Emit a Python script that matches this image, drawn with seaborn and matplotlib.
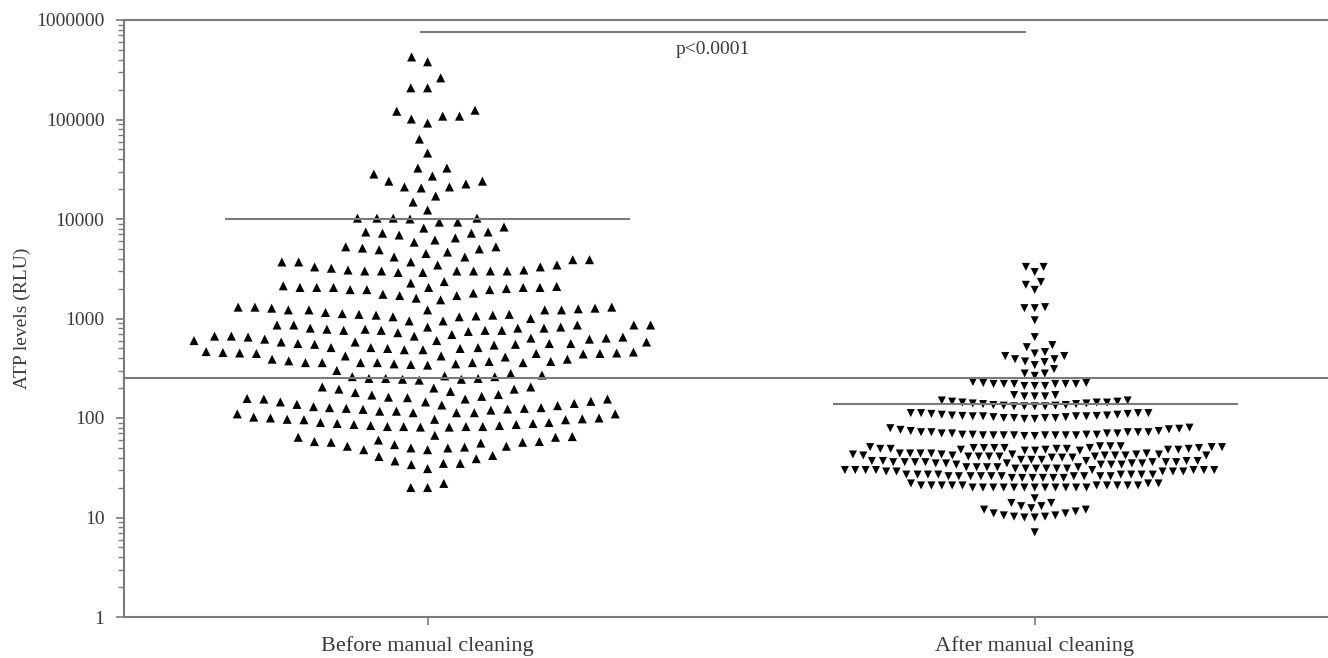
import numpy as np
import pandas as pd
import matplotlib
matplotlib.use('Agg')
import matplotlib.pyplot as plt
import matplotlib.ticker as mticker
import seaborn as sns
import warnings
warnings.filterwarnings('ignore')

groups = ['Before manual cleaning', 'After manual cleaning']

# ATP readings (RLU), roughly row by row from top to bottom
before_atp = [
    425000, 380000, 262000, 208000, 208000,
    124000, 121000, 108000, 108000, 101000, 92000,
    63500, 46000, 32500, 32500,
    28300, 27000, 24000, 24000, 22500, 21000, 21000, 20500,
    17000, 14800, 12300,
    10200, 10200, 10000, 9300, 8100, 7400, 7200, 7400, 8300, 9300, 10200, 10200,
    6900, 6150, 5250, 5100, 4900, 5000, 5250, 5850, 6450, 7200,
    4650, 4150, 3900, 3700, 3700, 3450, 3300, 3450, 3700, 3900, 4150, 4500,
    3070, 3000, 3000, 3000, 2900, 3300, 3070, 3200, 2900, 3000, 3000, 3000,
    2130, 2100, 2050, 2050, 2000, 1950, 1800, 1700, 1600, 2270, 1540, 2350,
    1700, 1750, 1950, 1950, 2050, 2050, 2050, 2050,
    1300, 1300, 1270, 1250, 1220, 1220, 1120, 1080, 1080, 1040, 1040, 1000,
    1060, 1100, 1100, 1150, 1220, 1220, 1220, 1270, 1300,
    945, 860, 860, 860, 800, 780, 760, 760, 760, 720, 665, 650, 650,
    665, 665, 690, 740, 760, 780, 800, 800, 820, 820, 860, 860, 945,
    635, 620, 600, 600, 580, 560, 550, 540, 510, 500, 485, 465, 455,
    460, 485, 500, 510, 510, 550, 560, 560, 580, 580, 620, 635,
    450, 445, 445, 440, 410, 390, 370, 360, 360, 360, 350, 345,
    340, 350, 360, 360, 360, 370, 375, 390, 420, 420, 445, 450,
    280, 270, 260, 260, 245, 240, 245, 250, 250, 250, 265, 300,
    205, 200, 195, 180, 170, 160, 155, 155, 155, 157, 162, 165, 172, 185, 195, 205,
    145, 140, 137, 127, 123, 122, 125, 120, 117, 113, 113,
    110, 110, 113, 117, 127, 125, 130, 133, 135, 145, 147,
    100, 98, 97, 96, 90, 88, 86, 84, 82, 82, 81,
    81, 82, 82, 84, 86, 88, 90, 96, 97, 100, 102,
    67, 65, 57, 57, 58, 52, 51, 50, 48, 48, 50, 52, 54, 56, 58, 60, 64, 64,
    41, 37, 35, 34, 35, 39, 42, 31,
    22, 20, 20,
]

after_atp = [
    3300, 2930, 3300, 2180, 1940, 2330, 1270, 1270, 1300, 960, 650, 540, 515,
    445, 420, 390, 370, 365, 390, 420, 460,
    310, 280, 265, 280, 340,
    220, 220, 220, 210, 225, 225, 230, 210, 210, 220, 220, 220,
    170, 165, 165, 165, 170,
    150, 143, 140, 146, 143, 138, 135, 133, 131, 131, 131, 131, 133, 135, 138, 140, 143, 146, 150,
    112, 112, 110, 108, 105, 100, 104, 106, 104, 102, 100, 98,
    98, 100, 102, 104, 106, 104, 100, 105, 108, 110, 112, 112,
    80, 78, 76, 77, 79,
    72, 70, 68, 68, 67, 67, 67, 67, 72, 74, 74, 72, 70,
    68, 67, 67, 67, 66, 66, 67, 68, 70, 72, 72, 70,
    50, 49, 51, 48, 47, 52, 50, 49, 48, 51, 47, 50,
    49, 52, 48, 50, 47, 51, 49, 50, 48, 52, 49, 50,
    43, 42, 44, 41, 40, 43, 42, 44, 41, 43, 40, 42,
    44, 41, 43, 42, 40, 44, 42, 41, 43, 42, 44, 41,
    37, 36, 35, 38, 36, 34, 37, 35, 36, 38, 34, 36,
    35, 37, 36, 34, 38, 36, 35, 37, 36, 34, 37, 35,
    31, 30, 32, 29, 31, 30, 32, 30, 29, 31, 32, 30,
    29, 31, 30, 32, 30, 29, 31, 30, 32, 29, 31, 30,
    26, 27, 25, 26, 27, 26, 25, 27, 26, 25, 27, 26,
    27, 25, 26, 27, 26, 25, 27, 26, 25, 26, 27, 26,
    22, 21, 20, 21, 20, 21, 20, 20, 21, 20, 22, 21, 20,
    21, 20, 20, 21, 20, 21, 20, 21, 20, 21, 20, 22,
    15.6, 14, 13, 12.4, 11, 10.5, 10.2, 10, 10, 10.2, 10.5, 11,
    14, 13, 12, 12, 11.5,
    7.1,
]

y_ticks = [1, 10, 100, 1000, 10000, 100000, 1000000]
threshold_rlu = 250
before_mean = 10000
after_mean = 138
p_label = 'p<0.0001'
p_bar_y = 760000

df = pd.DataFrame({
    'group': [groups[0]] * len(before_atp) + [groups[1]] * len(after_atp),
    'atp': before_atp + after_atp,
})

sns.set_style('white')
plt.rcParams['font.family'] = ['Liberation Serif', 'DejaVu Serif']
line_gray = '#7a7a7a'
text_gray = '#3a3a3a'

fig = plt.figure(figsize=(13.28, 6.58), dpi=100)
ax = fig.add_axes([124 / 1328, 41 / 658, 1 - 124 / 1328, 597 / 658])

# linewidth with no edge colour only widens the swarm spacing
sns.swarmplot(data=df[df['group'] == groups[0]], x='group', y='atp', order=groups,
              marker='^', color='black', size=6.5, linewidth=5, edgecolor='none',
              log_scale=True, ax=ax)
sns.swarmplot(data=df[df['group'] == groups[1]], x='group', y='atp', order=groups,
              marker='v', color='black', size=5.8, linewidth=1.3, edgecolor='none',
              log_scale=True, ax=ax)

# threshold, group means and the significance bar
ax.axhline(threshold_rlu, color=line_gray, lw=1.5, zorder=4)
ax.hlines(before_mean, -0.333, 0.333, color=line_gray, lw=1.5, zorder=4)
ax.hlines(after_mean, 1 - 0.333, 1 + 0.334, color=line_gray, lw=1.5, zorder=4)
ax.hlines(p_bar_y, -0.013, 0.985, color=line_gray, lw=1.5, zorder=4)
ax.text(0.47, 500000, p_label, ha='center', va='center', fontsize=14, color=text_gray)

ax.set_ylim(1, 1000000)
ax.set_xlim(-0.5, 1.483)
ax.yaxis.set_major_locator(mticker.FixedLocator(y_ticks))
ax.yaxis.set_major_formatter(mticker.FixedFormatter([str(t) for t in y_ticks]))
ax.yaxis.set_minor_locator(mticker.LogLocator(base=10, subs=np.arange(2, 10), numticks=20))
ax.yaxis.set_minor_formatter(mticker.NullFormatter())

for side in ['top', 'bottom', 'left']:
    ax.spines[side].set_visible(True)
    ax.spines[side].set_color(line_gray)
    ax.spines[side].set_linewidth(1.5)
ax.spines['right'].set_visible(False)

ax.tick_params(axis='y', which='major', direction='out', length=6, width=1.2,
               color=line_gray, labelsize=14, labelcolor=text_gray, pad=8, left=True)
ax.tick_params(axis='y', which='minor', direction='out', length=4, width=1,
               color=line_gray, left=True)
ax.tick_params(axis='x', direction='out', length=6, width=1.2, color=line_gray,
               labelsize=16, labelcolor=text_gray, pad=8, bottom=True)

ax.set_xlabel('')
ax.set_ylabel('ATP levels (RLU)', fontsize=14, color=text_gray, labelpad=4)

plt.savefig('out.png', dpi=100)
plt.close()
